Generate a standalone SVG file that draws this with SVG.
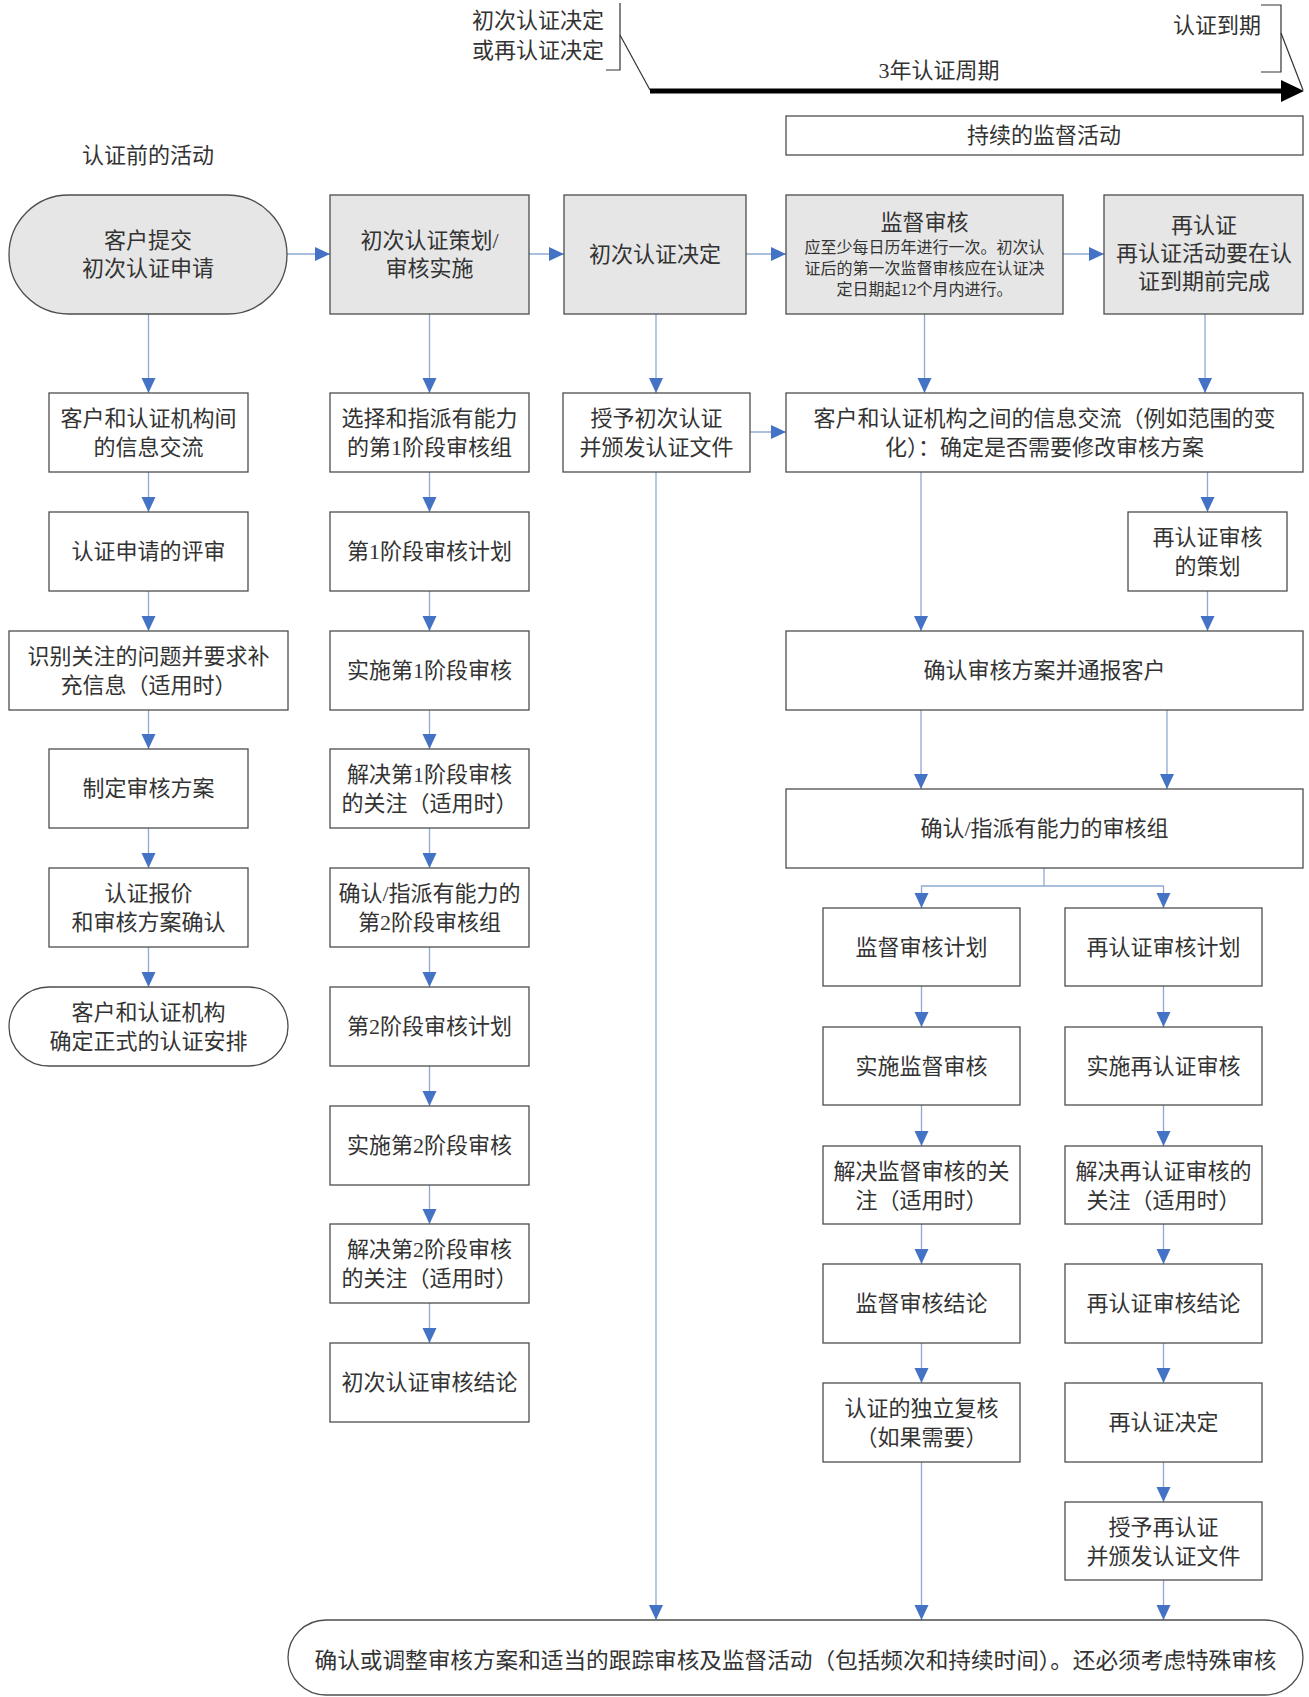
<svg xmlns="http://www.w3.org/2000/svg" width="1309" height="1697" viewBox="0 0 1309 1697">
<style>
.box{fill:#fff;stroke:#4d4d4d;stroke-width:1.3}
.g{fill:#e6e6e6}
.t{font-family:"Liberation Serif","Noto Sans CJK SC",serif;font-size:22px;fill:#333;text-anchor:middle;dominant-baseline:central}
.s{font-size:16px}
.c{fill:none;stroke:#8eaad2;stroke-width:1.3;marker-end:url(#arr)}
.cn{fill:none;stroke:#8eaad2;stroke-width:1.3}
.k{fill:none;stroke:#333;stroke-width:1.2}
</style>
<defs>
<marker id="arr" markerUnits="userSpaceOnUse" markerWidth="16" markerHeight="16" refX="15" refY="7" orient="auto">
<path d="M0,0 L15,7 L0,14 z" fill="#4472c4"/>
</marker>
</defs>
<rect width="1309" height="1697" fill="#fff"/>

<g id="timeline">
<text class="t" x="538" y="20">初次认证决定</text>
<text class="t" x="538" y="50">或再认证决定</text>
<path class="k" d="M620,3 V70 H606"/>
<path class="k" d="M620,35 L650,90"/>
<path class="k" d="M1261,5 H1281 V72 H1261"/>
<path class="k" d="M1281,33 L1303,90"/>
<text class="t" x="1217" y="25">认证到期</text>
<text class="t" x="939" y="70">3年认证周期</text>
<line x1="650" y1="91" x2="1284" y2="91" stroke="#000" stroke-width="5"/>
<polygon points="1281,80 1304,91 1281,102" fill="#000"/>
</g>

<g id="ongoing">
<rect class="box" x="786" y="116" width="517" height="39"/>
<text class="t" x="1044" y="135">持续的监督活动</text>
</g>
<g id="pre-label"><text class="t" x="148" y="155">认证前的活动</text></g>

<g id="connectors">
<line class="c" x1="287" y1="254" x2="330" y2="254"/>
<line class="c" x1="529" y1="254" x2="564" y2="254"/>
<line class="c" x1="746" y1="254" x2="786" y2="254"/>
<line class="c" x1="1063" y1="254" x2="1104" y2="254"/>
<line class="c" x1="148.5" y1="314" x2="148.5" y2="393"/>
<line class="c" x1="429.5" y1="314" x2="429.5" y2="393"/>
<line class="c" x1="656" y1="314" x2="656" y2="393"/>
<line class="c" x1="924.5" y1="314" x2="924.5" y2="393"/>
<line class="c" x1="1205" y1="314" x2="1205" y2="393"/>
<line class="c" x1="750" y1="432" x2="786" y2="432"/>
<line class="c" x1="148.5" y1="472" x2="148.5" y2="512"/>
<line class="c" x1="148.5" y1="591" x2="148.5" y2="631"/>
<line class="c" x1="148.5" y1="710" x2="148.5" y2="749"/>
<line class="c" x1="148.5" y1="828" x2="148.5" y2="868"/>
<line class="c" x1="148.5" y1="947" x2="148.5" y2="987"/>
<line class="c" x1="429.5" y1="472" x2="429.5" y2="512"/>
<line class="c" x1="429.5" y1="591" x2="429.5" y2="631"/>
<line class="c" x1="429.5" y1="710" x2="429.5" y2="749"/>
<line class="c" x1="429.5" y1="828" x2="429.5" y2="868"/>
<line class="c" x1="429.5" y1="947" x2="429.5" y2="987"/>
<line class="c" x1="429.5" y1="1066" x2="429.5" y2="1106"/>
<line class="c" x1="429.5" y1="1185" x2="429.5" y2="1224"/>
<line class="c" x1="429.5" y1="1303" x2="429.5" y2="1343"/>
<line class="c" x1="656" y1="472" x2="656" y2="1620"/>
<line class="c" x1="921" y1="472" x2="921" y2="631"/>
<line class="c" x1="1207.5" y1="472" x2="1207.5" y2="512"/>
<line class="c" x1="1207.5" y1="591" x2="1207.5" y2="631"/>
<line class="c" x1="921" y1="710" x2="921" y2="789"/>
<line class="c" x1="1167" y1="710" x2="1167" y2="789"/>
<path class="cn" d="M1044,868 V886"/>
<path class="c" d="M1044,886 H921.5 V908"/>
<path class="c" d="M1044,886 H1163.5 V908"/>
<line class="c" x1="921.5" y1="986" x2="921.5" y2="1027"/>
<line class="c" x1="921.5" y1="1105" x2="921.5" y2="1146"/>
<line class="c" x1="921.5" y1="1224" x2="921.5" y2="1264"/>
<line class="c" x1="921.5" y1="1343" x2="921.5" y2="1383"/>
<line class="c" x1="921.5" y1="1462" x2="921.5" y2="1620"/>
<line class="c" x1="1163.5" y1="986" x2="1163.5" y2="1027"/>
<line class="c" x1="1163.5" y1="1105" x2="1163.5" y2="1146"/>
<line class="c" x1="1163.5" y1="1224" x2="1163.5" y2="1264"/>
<line class="c" x1="1163.5" y1="1343" x2="1163.5" y2="1383"/>
<line class="c" x1="1163.5" y1="1462" x2="1163.5" y2="1502"/>
<line class="c" x1="1163.5" y1="1580" x2="1163.5" y2="1620"/>
</g>

<g id="n-submit"><rect class="box g" x="9" y="195" width="278" height="119" rx="59.5" ry="59.5"/>
<text class="t" x="148" y="240">客户提交</text><text class="t" x="148" y="268">初次认证申请</text></g>
<g id="n-plan"><rect class="box g" x="330" y="195" width="199" height="119"/>
<text class="t" x="429.5" y="240">初次认证策划/</text><text class="t" x="429.5" y="268">审核实施</text></g>
<g id="n-decision"><rect class="box g" x="564" y="195" width="182" height="119"/>
<text class="t" x="655" y="254">初次认证决定</text></g>
<g id="n-surv"><rect class="box g" x="786" y="195" width="277" height="119"/>
<text class="t" x="924.5" y="222">监督审核</text>
<text class="t s" x="924.5" y="247">应至少每日历年进行一次。初次认</text>
<text class="t s" x="924.5" y="268">证后的第一次监督审核应在认证决</text>
<text class="t s" x="924.5" y="289">定日期起12个月内进行。</text></g>
<g id="n-recert"><rect class="box g" x="1104" y="195" width="199" height="119"/>
<text class="t" x="1204" y="225">再认证</text><text class="t" x="1204" y="253">再认证活动要在认</text><text class="t" x="1204" y="281">证到期前完成</text></g>

<g id="n-l1"><rect class="box" x="49" y="393" width="199" height="79"/>
<text class="t" x="148.5" y="418">客户和认证机构间</text><text class="t" x="148.5" y="447">的信息交流</text></g>
<g id="n-l2"><rect class="box" x="49" y="512" width="199" height="79"/>
<text class="t" x="148.5" y="551.5">认证申请的评审</text></g>
<g id="n-l3"><rect class="box" x="9" y="631" width="279" height="79"/>
<text class="t" x="148.5" y="656">识别关注的问题并要求补</text><text class="t" x="148.5" y="685">充信息（适用时）</text></g>
<g id="n-l4"><rect class="box" x="49" y="749" width="199" height="79"/>
<text class="t" x="148.5" y="788.5">制定审核方案</text></g>
<g id="n-l5"><rect class="box" x="49" y="868" width="199" height="79"/>
<text class="t" x="148.5" y="893">认证报价</text><text class="t" x="148.5" y="922">和审核方案确认</text></g>
<g id="n-l6"><rect class="box" x="9" y="987" width="279" height="79" rx="40" ry="39.5"/>
<text class="t" x="148.5" y="1012">客户和认证机构</text><text class="t" x="148.5" y="1041">确定正式的认证安排</text></g>

<g id="n-c1"><rect class="box" x="330" y="393" width="199" height="79"/>
<text class="t" x="429.5" y="418">选择和指派有能力</text><text class="t" x="429.5" y="447">的第1阶段审核组</text></g>
<g id="n-c2"><rect class="box" x="330" y="512" width="199" height="79"/>
<text class="t" x="429.5" y="551.5">第1阶段审核计划</text></g>
<g id="n-c3"><rect class="box" x="330" y="631" width="199" height="79"/>
<text class="t" x="429.5" y="670.5">实施第1阶段审核</text></g>
<g id="n-c4"><rect class="box" x="330" y="749" width="199" height="79"/>
<text class="t" x="429.5" y="774">解决第1阶段审核</text><text class="t" x="429.5" y="803">的关注（适用时）</text></g>
<g id="n-c5"><rect class="box" x="330" y="868" width="199" height="79"/>
<text class="t" x="429.5" y="893">确认/指派有能力的</text><text class="t" x="429.5" y="922">第2阶段审核组</text></g>
<g id="n-c6"><rect class="box" x="330" y="987" width="199" height="79"/>
<text class="t" x="429.5" y="1026.5">第2阶段审核计划</text></g>
<g id="n-c7"><rect class="box" x="330" y="1106" width="199" height="79"/>
<text class="t" x="429.5" y="1145.5">实施第2阶段审核</text></g>
<g id="n-c8"><rect class="box" x="330" y="1224" width="199" height="79"/>
<text class="t" x="429.5" y="1249">解决第2阶段审核</text><text class="t" x="429.5" y="1278">的关注（适用时）</text></g>
<g id="n-c9"><rect class="box" x="330" y="1343" width="199" height="79"/>
<text class="t" x="429.5" y="1382.5">初次认证审核结论</text></g>

<g id="n-grant"><rect class="box" x="563" y="393" width="187" height="79"/>
<text class="t" x="656.5" y="418">授予初次认证</text><text class="t" x="656.5" y="447">并颁发认证文件</text></g>

<g id="n-info"><rect class="box" x="786" y="393" width="517" height="79"/>
<text class="t" x="1044.5" y="418">客户和认证机构之间的信息交流（例如范围的变</text><text class="t" x="1044.5" y="447">化）：确定是否需要修改审核方案</text></g>
<g id="n-rplan"><rect class="box" x="1128" y="512" width="159" height="79"/>
<text class="t" x="1207.5" y="537">再认证审核</text><text class="t" x="1207.5" y="566">的策划</text></g>
<g id="n-confirm"><rect class="box" x="786" y="631" width="517" height="79"/>
<text class="t" x="1044.5" y="670.5">确认审核方案并通报客户</text></g>
<g id="n-team"><rect class="box" x="786" y="789" width="517" height="79"/>
<text class="t" x="1044.5" y="828.5">确认/指派有能力的审核组</text></g>

<g id="n-s1"><rect class="box" x="823" y="908" width="197" height="78"/>
<text class="t" x="921.5" y="947">监督审核计划</text></g>
<g id="n-s2"><rect class="box" x="823" y="1027" width="197" height="78"/>
<text class="t" x="921.5" y="1066">实施监督审核</text></g>
<g id="n-s3"><rect class="box" x="823" y="1146" width="197" height="78"/>
<text class="t" x="921.5" y="1171">解决监督审核的关</text><text class="t" x="921.5" y="1200">注（适用时）</text></g>
<g id="n-s4"><rect class="box" x="823" y="1264" width="197" height="79"/>
<text class="t" x="921.5" y="1303.5">监督审核结论</text></g>
<g id="n-s5"><rect class="box" x="823" y="1383" width="197" height="79"/>
<text class="t" x="921.5" y="1408">认证的独立复核</text><text class="t" x="921.5" y="1437">（如果需要）</text></g>

<g id="n-r1"><rect class="box" x="1065" y="908" width="197" height="78"/>
<text class="t" x="1163.5" y="947">再认证审核计划</text></g>
<g id="n-r2"><rect class="box" x="1065" y="1027" width="197" height="78"/>
<text class="t" x="1163.5" y="1066">实施再认证审核</text></g>
<g id="n-r3"><rect class="box" x="1065" y="1146" width="197" height="78"/>
<text class="t" x="1163.5" y="1171">解决再认证审核的</text><text class="t" x="1163.5" y="1200">关注（适用时）</text></g>
<g id="n-r4"><rect class="box" x="1065" y="1264" width="197" height="79"/>
<text class="t" x="1163.5" y="1303.5">再认证审核结论</text></g>
<g id="n-r5"><rect class="box" x="1065" y="1383" width="197" height="79"/>
<text class="t" x="1163.5" y="1422.5">再认证决定</text></g>
<g id="n-r6"><rect class="box" x="1065" y="1502" width="197" height="78"/>
<text class="t" x="1163.5" y="1527">授予再认证</text><text class="t" x="1163.5" y="1556">并颁发认证文件</text></g>

<g id="n-final"><rect class="box" x="288" y="1620" width="1015" height="75" rx="38" ry="38"/>
<text class="t" x="795.5" y="1660" textLength="962" lengthAdjust="spacingAndGlyphs">确认或调整审核方案和适当的跟踪审核及监督活动（包括频次和持续时间）。还必须考虑特殊审核</text></g>
</svg>
